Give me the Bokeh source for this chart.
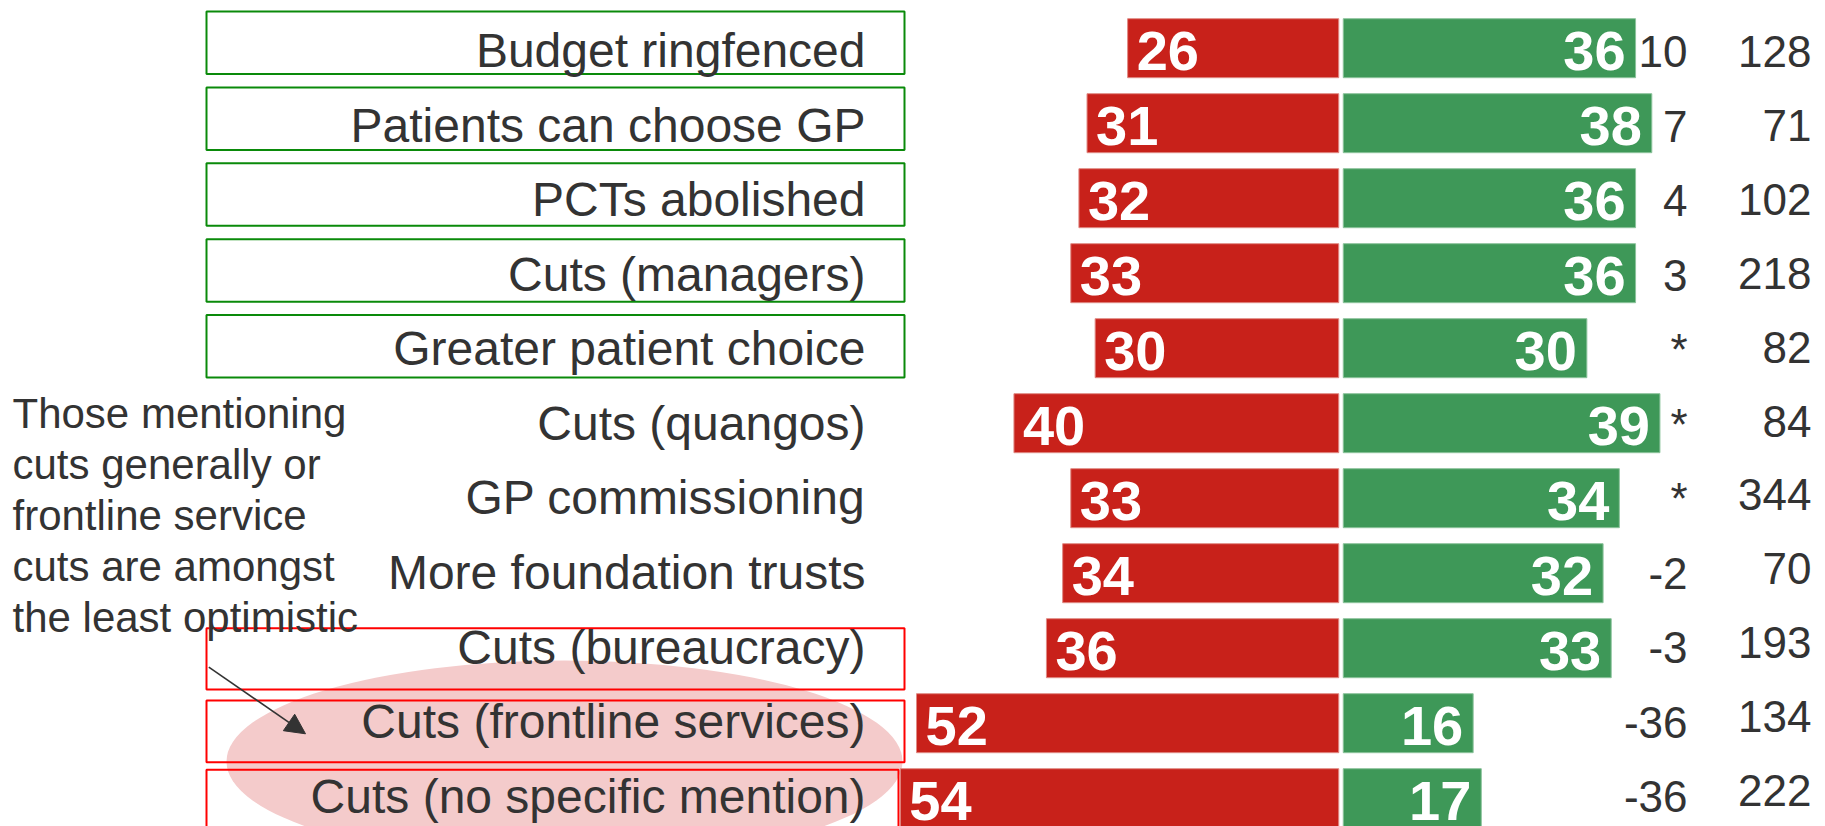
from bokeh.plotting import figure
from bokeh.models import ColumnDataSource, Range1d, Arrow, NormalHead
from bokeh.core.properties import value
from bokeh.embed import file_html
from bokeh.resources import INLINE

# ---------------- data ----------------
categories = ["Budget ringfenced", "Patients can choose GP", "PCTs abolished",
              "Cuts (managers)", "Greater patient choice", "Cuts (quangos)",
              "GP commissioning", "More foundation trusts", "Cuts (bureaucracy)",
              "Cuts (frontline services)", "Cuts (no specific mention)"]
pessimistic = [26, 31, 32, 33, 30, 40, 33, 34, 36, 52, 54]
optimistic = [36, 38, 36, 36, 30, 39, 34, 32, 33, 16, 17]
net_labels = ["10", "7", "4", "3", "*", "*", "*", "-2", "-3", "-36", "-36"]
base_sizes = [128, 71, 102, 218, 82, 84, 344, 70, 193, 134, 222]
note_lines = ["Those mentioning", "cuts generally or", "frontline service",
              "cuts are amongst", "the least optimistic"]
green_rows = [0, 1, 2, 3, 4]
red_rows = [8, 9, 10]

# ---------------- layout (page pixels) ----------------
W, H, M = 1825, 826, 0
S = 8.12          # px per percentage point
ZERO = 1340.5     # page x of the axis between red and green
ROW0 = 47.7       # page y of first row centre
PITCH = 75.0
GAP = 2.25 / S
BL = 0.31         # correction of the renderer's alphabetic baseline (em)

def fx(px):
    return (px - ZERO) / S

def fy(py):
    return (py - ROW0) / PITCH

RED = "#C8211A"
GREEN = "#3E9858"
DARK = "#333333"
FONT = "Liberation Sans"

p = figure(width=W, height=H, output_backend="svg", toolbar_location=None,
           x_range=Range1d(fx(M), fx(M + W)), y_range=Range1d(fy(M + H), fy(M)),
           x_axis_type=None, y_axis_type=None, min_border=0,
           outline_line_color=None, background_fill_color="white",
           border_fill_color="white")
p.xgrid.visible = False
p.ygrid.visible = False

n = len(categories)
rows = list(range(n))
src = ColumnDataSource(dict(
    y=rows,
    cat=categories,
    neg_left=[-v - GAP for v in pessimistic],
    neg_right=[-GAP] * n,
    pos_left=[GAP] * n,
    pos_right=[v + GAP for v in optimistic],
    neg_txt=[str(v) for v in pessimistic],
    pos_txt=[str(v) for v in optimistic],
    net=net_labels,
    base=[str(v) for v in base_sizes],
    lab_off=[17.3 - 0.45 * i - BL * 48 for i in rows],
    net_off=[17.0 - 0.5 * i - BL * 44 for i in rows],
    base_off=[17.0 - 1.1 * i - BL * 44 for i in rows],
))

# highlight ellipse (behind everything on the left)
p.ellipse(x=fx(564), y=fy(761), width=676, height=202,
          width_units="screen", height_units="screen",
          fill_color="#F4CBCB", line_color=None)

# outline boxes round labels
g_top = [11 + 75.9 * k for k in range(len(green_rows))]
p.quad(left=[fx(206)] * len(green_rows), right=[fx(904)] * len(green_rows),
       top=[fy(t) for t in g_top], bottom=[fy(t + 62.5) for t in g_top],
       fill_color=None, line_color="#0A8A0A", line_width=2)
r_top = [627.7, 700.0, 769.3]
r_bot = [689.0, 761.7, 840.0]
r_right = [904, 904, 898]
p.quad(left=[fx(206)] * 3, right=[fx(x) for x in r_right],
       top=[fy(t) for t in r_top], bottom=[fy(b) for b in r_bot],
       fill_color=None, line_color="#FF0000", line_width=2)

# bars
BAR_H = 59.0 / PITCH
p.hbar(y="y", left="neg_left", right="neg_right", height=BAR_H, source=src,
       fill_color=RED, line_color="#E08A84", line_width=1)
p.hbar(y="y", left="pos_left", right="pos_right", height=BAR_H, source=src,
       fill_color=GREEN, line_color="#8CC39C", line_width=1)

# bar value labels
p.text(x="neg_left", y="y", text="neg_txt", source=src, x_offset=9, y_offset=20 - BL * 56,
       text_align="left", text_baseline="alphabetic", text_color="white",
       text_font=value(FONT), text_font_style="bold", text_font_size="56px")
p.text(x="pos_right", y="y", text="pos_txt", source=src, x_offset=-10, y_offset=20 - BL * 56,
       text_align="right", text_baseline="alphabetic", text_color="white",
       text_font=value(FONT), text_font_style="bold", text_font_size="56px")

# category labels
p.text(x=fx(865), y="y", text="cat", source=src, y_offset="lab_off",
       text_align="right", text_baseline="alphabetic", text_color=DARK,
       text_font=value(FONT), text_font_size="48px")

# net and base columns
p.text(x=fx(1687), y="y", text="net", source=src, y_offset="net_off",
       text_align="right", text_baseline="alphabetic", text_color=DARK,
       text_font=value(FONT), text_font_size="44px")
p.text(x=fx(1811), y="y", text="base", source=src, y_offset="base_off",
       text_align="right", text_baseline="alphabetic", text_color=DARK,
       text_font=value(FONT), text_font_size="44px")

# side note
note_base = [425.7 + 51.1 * k for k in range(len(note_lines))]
p.text(x=[fx(12)] * len(note_lines), y=[fy(b) for b in note_base], text=note_lines,
       y_offset=-BL * 42,
       text_align="left", text_baseline="alphabetic", text_color=DARK,
       text_font=value(FONT), text_font_size="42px")

# arrow
p.add_layout(Arrow(x_start=fx(208.3), y_start=fy(666.7), x_end=fx(305), y_end=fy(733.3),
                   line_color=DARK, line_width=1.6,
                   end=NormalHead(size=20, fill_color=DARK, line_color=DARK)))

open("out.html", "w").write(file_html(p, INLINE))
